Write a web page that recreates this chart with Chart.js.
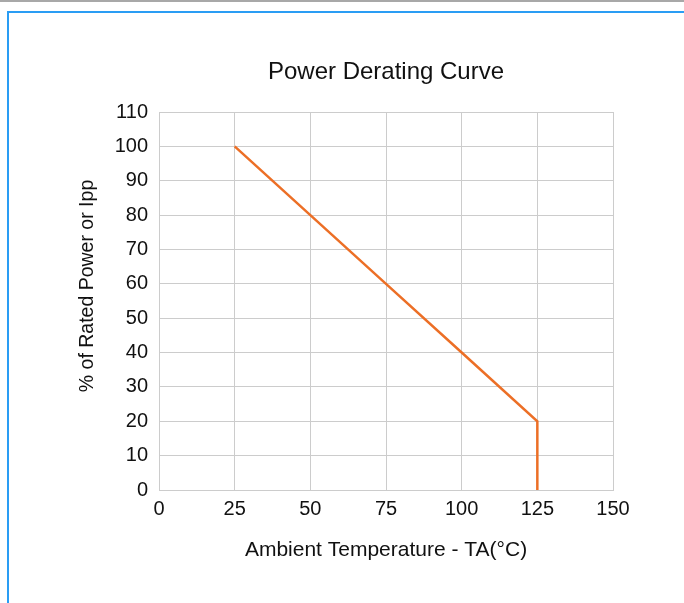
<!DOCTYPE html>
<html><head><meta charset="utf-8">
<script src="https://cdn.jsdelivr.net/npm/chart.js@4"></script>
<style>
html,body{margin:0;padding:0;background:#fff;width:684px;height:603px;overflow:hidden;}
#topline{position:absolute;left:0;top:0;width:684px;height:2px;background:#a8a8a8;}
#frame{position:absolute;left:7px;top:11px;width:700px;height:620px;border-left:2px solid #2a9df4;border-top:2px solid #2a9df4;}
#wrap{position:absolute;left:0;top:0;width:684px;height:603px;}
</style></head>
<body>
<div id="topline"></div>
<div id="frame"></div>
<div id="wrap"><canvas id="c" width="684" height="603"></canvas></div>
<script>
const temperatures = [25, 50, 75, 100, 125, 125];
const ratedPercent = [100, 80, 60, 40, 20, 0];
const xTicks = [0, 25, 50, 75, 100, 125, 150];
const yTicks = [0, 10, 20, 30, 40, 50, 60, 70, 80, 90, 100, 110];
const chartTitle = 'Power Derating Curve';
const xTitle = 'Ambient Temperature - TA(°C)';
const yTitle = '% of Rated Power or Ipp';

const FONT = '"Liberation Sans", Arial, Helvetica, sans-serif';
const pts = temperatures.map((t, i) => ({x: t, y: ratedPercent[i]}));

const titlesPlugin = {
  id: 'titles',
  afterDraw(chart) {
    const ctx = chart.ctx, a = chart.chartArea;
    ctx.save();
    ctx.fillStyle = '#111';
    ctx.textAlign = 'center';
    ctx.textBaseline = 'middle';
    ctx.font = '24px ' + FONT;
    ctx.fillText(chartTitle, (a.left + a.right) / 2, 72);
    ctx.translate(88, 286);
    ctx.rotate(-Math.PI / 2);
    ctx.font = '19.5px ' + FONT;
    ctx.fillText(yTitle, 0, 0);
    ctx.restore();
  }
};

new Chart(document.getElementById('c'), {
  type: 'line',
  data: { datasets: [{ data: pts, borderColor: '#ec6f26', borderWidth: 2.5, pointRadius: 0, fill: false, tension: 0 }] },
  options: {
    responsive: false, animation: false,
    layout: { padding: { left: 60, right: 71, top: 112, bottom: 36 } },
    plugins: {
      legend: { display: false },
      tooltip: { enabled: false },
      title: { display: false }
    },
    scales: {
      x: {
        type: 'linear', min: 0, max: 150,
        afterBuildTicks: s => { s.ticks = xTicks.map(v => ({value: v})); },
        afterFit: s => { s.height = 77; },
        grid: { color: '#cccccc', lineWidth: 1, drawTicks: false },
        border: { color: '#cccccc' },
        ticks: { color: '#111', font: { family: FONT, size: 20 }, padding: 7, maxRotation: 0 },
        title: { display: true, text: xTitle, color: '#111', font: { family: FONT, size: 21 }, padding: { top: 11 } }
      },
      y: {
        type: 'linear', min: 0, max: 110,
        afterBuildTicks: s => { s.ticks = yTicks.map(v => ({value: v})); },
        afterFit: s => { s.width = 99; },
        grid: { color: '#cccccc', lineWidth: 1, drawTicks: false },
        border: { color: '#cccccc' },
        ticks: { color: '#111', font: { family: FONT, size: 20 }, padding: 11 },
        title: { display: false }
      }
    }
  },
  plugins: [titlesPlugin]
});
</script>
</body></html>
